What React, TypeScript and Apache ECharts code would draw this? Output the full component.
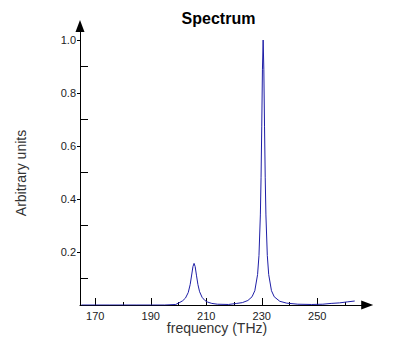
import React, { useEffect, useRef } from "react";
import * as echarts from "echarts";

const freq = [
  165, 170, 175, 180, 185, 190, 195, 199, 200.5, 201.5, 202.5, 203.5, 204.2, 204.8, 205.2, 205.6,
  206.0, 206.5, 207.0, 207.6, 208.5, 209.5, 210.5, 212, 214, 218, 221, 223, 225, 226.5, 227.5,
  228.5, 229, 229.5, 229.75, 230, 230.25, 230.5, 230.75, 231, 231.25, 231.5, 232, 232.5, 233.5,
  234.5, 236.5, 239, 243, 248, 252, 255, 258, 261, 263.5,
];
const amplitude = [
  0, 0, 0, 0, 0, 0, 0, 0.002, 0.01, 0.016, 0.026, 0.047, 0.077, 0.117, 0.145, 0.157,
  0.145, 0.11, 0.077, 0.05, 0.029, 0.017, 0.011, 0.006, 0.003, 0.002, 0.006, 0.009, 0.017, 0.031, 0.054,
  0.115, 0.187, 0.34, 0.48, 0.675, 0.89, 1.0, 0.89, 0.675, 0.48, 0.34, 0.187, 0.115, 0.054,
  0.031, 0.014, 0.007, 0.003, 0.002, 0.003, 0.006, 0.008, 0.012, 0.015,
];
const xMajorTicks = [170, 190, 210, 230, 250];
const xMinorTicks = [180, 200, 220, 240, 260];
const yMajorTicks = [0.2, 0.4, 0.6, 0.8, 1.0];
const yMinorTicks = [0.1, 0.3, 0.5, 0.7, 0.9];

const X_MIN = 164.5;
const X_MAX = 268;
const Y_MIN = 0;
const Y_MAX = 1.053;

export default function App() {
  const ref = useRef<HTMLDivElement>(null);
  useEffect(() => {
    if (!ref.current) return;
    const chart = echarts.init(ref.current, undefined, { renderer: "svg" });
    const font = "'Liberation Sans', Arial, sans-serif";
    const labelStyle = { color: "#222", fontSize: 11, fontFamily: font };
    chart.setOption({
      animation: false,
      backgroundColor: "#fff",
      grid: { left: 80, right: 28.8, top: 26, bottom: 51, containLabel: false },
      xAxis: [
        {
          type: "value",
          min: X_MIN,
          max: X_MAX,
          axisLine: {
            show: true,
            lineStyle: { color: "#000", width: 1 },
            symbol: ["none", "triangle"],
            symbolSize: [9, 12],
          },
          axisTick: {
            show: true,
            inside: true,
            length: 7,
            customValues: xMajorTicks,
            lineStyle: { color: "#000" },
          },
          axisLabel: {
            show: true,
            customValues: xMajorTicks,
            margin: 5,
            ...labelStyle,
          },
          splitLine: { show: false },
        },
        {
          type: "value",
          min: X_MIN,
          max: X_MAX,
          position: "bottom",
          axisLine: { show: false },
          axisTick: {
            show: true,
            inside: true,
            length: 3,
            customValues: xMinorTicks,
            lineStyle: { color: "#000" },
          },
          axisLabel: { show: false },
          splitLine: { show: false },
        },
      ],
      yAxis: [
        {
          type: "value",
          min: Y_MIN,
          max: Y_MAX,
          axisLine: {
            show: true,
            lineStyle: { color: "#000", width: 1 },
            symbol: ["none", "triangle"],
            symbolSize: [9, 12],
          },
          axisTick: {
            show: true,
            inside: false,
            length: 3,
            customValues: yMajorTicks,
            lineStyle: { color: "#000" },
          },
          axisLabel: {
            show: true,
            customValues: yMajorTicks,
            margin: 4,
            formatter: (v: number) => v.toFixed(1),
            ...labelStyle,
          },
          splitLine: { show: false },
        },
        {
          type: "value",
          min: Y_MIN,
          max: Y_MAX,
          position: "left",
          axisLine: { show: false },
          axisTick: {
            show: true,
            inside: true,
            length: 8,
            customValues: yMinorTicks,
            lineStyle: { color: "#000" },
          },
          axisLabel: { show: false },
          splitLine: { show: false },
        },
      ],
      graphic: [
        {
          type: "text",
          x: 218.5,
          y: 18,
          style: {
            text: "Spectrum",
            fill: "#000",
            font: `bold 16px ${font}`,
            textAlign: "center",
            textVerticalAlign: "middle",
          },
        },
        {
          type: "text",
          x: 217,
          y: 328,
          style: {
            text: "frequency (THz)",
            fill: "#333",
            font: `14px ${font}`,
            textAlign: "center",
            textVerticalAlign: "middle",
          },
        },
        {
          type: "text",
          x: 21,
          y: 173,
          rotation: Math.PI / 2,
          style: {
            text: "Arbitrary units",
            fill: "#333",
            font: `14px ${font}`,
            textAlign: "center",
            textVerticalAlign: "middle",
          },
        },
      ],
      series: [
        {
          type: "line",
          xAxisIndex: 0,
          yAxisIndex: 0,
          data: freq.map((f, i) => [f, amplitude[i]]),
          showSymbol: false,
          symbol: "none",
          smooth: false,
          lineStyle: { color: "#1e1ea6", width: 1 },
          z: 1,
        },
      ],
    });
    return () => chart.dispose();
  }, []);
  return <div ref={ref} style={{ width: 396, height: 356, position: "absolute", left: 0, top: 0 }} />;
}
